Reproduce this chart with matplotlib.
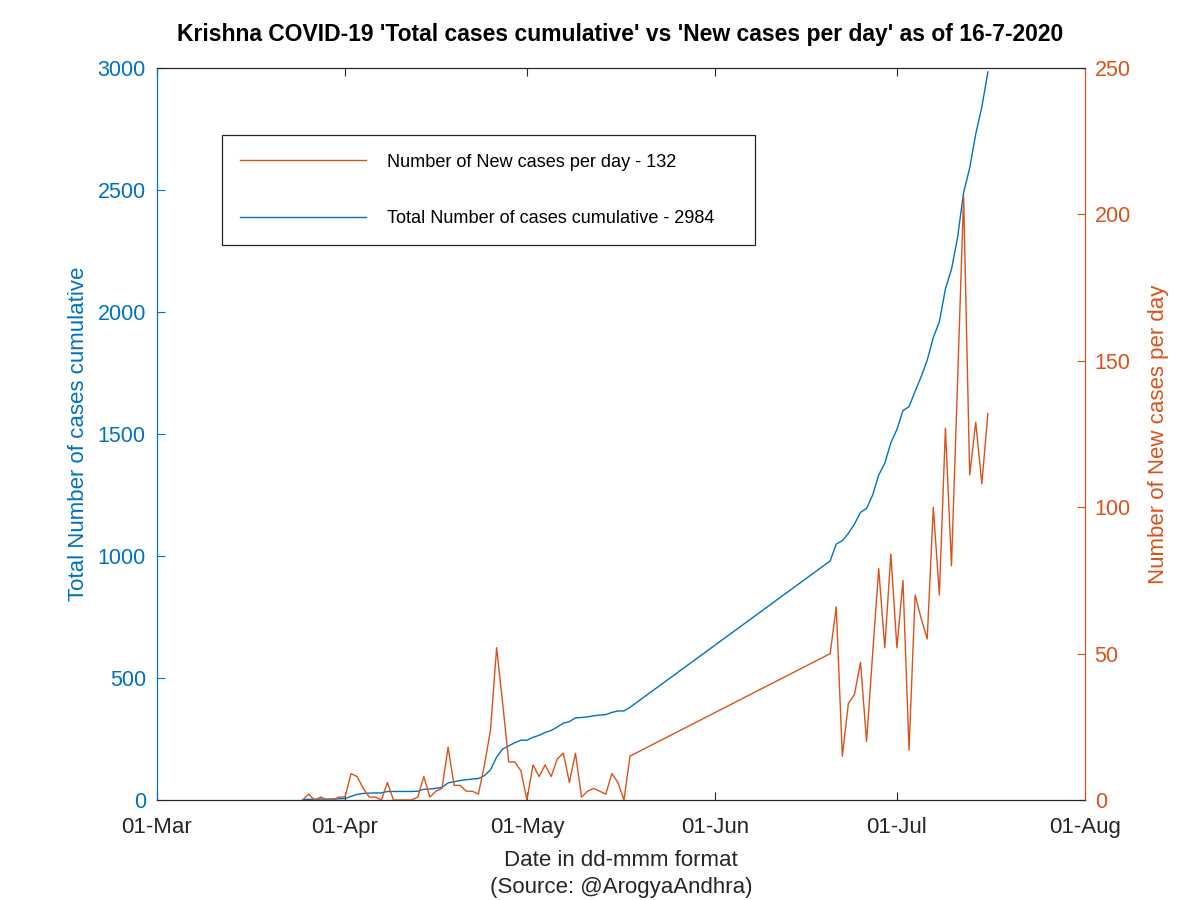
import numpy as np
import pandas as pd
import matplotlib
matplotlib.use("Agg")
import matplotlib.pyplot as plt
import matplotlib.dates as mdates

plt.rcParams['font.family'] = ['Liberation Sans', 'DejaVu Sans']

# reported days: 25-Mar .. 18-May, then 20-Jun .. 16-Jul
dates_a = pd.date_range("2020-03-25", "2020-05-18")
dates_b = pd.date_range("2020-06-20", "2020-07-16")

new_a = [0, 2, 0, 1, 0, 0, 1,
         1, 9, 8, 4, 1, 1, 0, 6, 0, 0, 0, 0, 1, 8, 1, 3, 4, 18, 5, 5, 3, 3, 2, 12,
         24, 52, 33, 13, 13, 10,
         0, 12, 8, 12, 8, 14, 16, 6, 16, 1, 3, 4, 3, 2, 9, 6, 0, 15]
new_b = [50, 66, 15, 33, 36, 47, 20, 50, 79, 52, 84,
         52, 75, 17, 70, 62, 55, 100, 70, 127, 80, 143, 206, 111, 129, 108, 132]

total_a = [1, 3, 3, 4, 4, 4, 5,
           6, 15, 23, 27, 28, 29, 29, 35, 35, 35, 35, 35, 36, 44, 45, 48, 52, 70, 75, 80,
           83, 86, 88, 100, 124, 176, 209, 222, 235, 245,
           245, 257, 265, 277, 285, 299, 315, 321, 337, 338, 341, 345, 348, 350, 359, 365, 365, 380]
total_b = [980, 1049, 1063, 1093, 1131, 1179, 1195, 1250, 1332, 1380, 1464,
           1519, 1596, 1612, 1675, 1735, 1803, 1895, 1960, 2095, 2175, 2305, 2490,
           2590, 2730, 2840, 2984]

dates = dates_a.append(dates_b)
new_cases = new_a + new_b
total_cases = total_a + total_b

blue = "#0072BD"
red = "#D95319"
dark = "#262626"

fig = plt.figure(figsize=(12, 9), dpi=100)
ax = fig.add_axes([0.1308, 0.1111, 0.7733, 0.8133])
ax2 = ax.twinx()

l1, = ax.plot(dates, total_cases, color=blue, lw=1.0,
              label="Total Number of cases cumulative - %d" % total_cases[-1])
l2, = ax2.plot(dates, new_cases, color=red, lw=1.0,
               label="Number of New cases per day - %d" % new_cases[-1])

ax.set_xlim(pd.Timestamp("2020-03-01"), pd.Timestamp("2020-08-01"))
ax.set_ylim(0, 3000)
ax2.set_ylim(0, 250)
ax.set_yticks(np.arange(0, 3001, 500))
ax2.set_yticks(np.arange(0, 251, 50))
ax.xaxis.set_major_locator(mdates.MonthLocator())
ax.xaxis.set_major_formatter(mdates.DateFormatter("%d-%b"))

ax.tick_params(axis='x', direction='in', top=True, length=6, colors=dark,
               labelsize=16, pad=12)
ax.tick_params(axis='y', direction='in', length=6, colors=blue, labelsize=15.5, pad=8)
ax2.tick_params(axis='y', direction='in', length=6, colors=red, labelsize=15.5, pad=7)

for a in (ax, ax2):
    a.spines['top'].set_color(dark)
    a.spines['bottom'].set_color(dark)
    a.spines['left'].set_color(blue)
    a.spines['right'].set_color(red)

ax.set_ylabel("Total Number of cases cumulative", color=blue, fontsize=16, labelpad=6)
ax2.set_ylabel("Number of New cases per day", color=red, fontsize=16, labelpad=12)
ax.set_xlabel("Date in dd-mmm format\n(Source: @ArogyaAndhra)", color=dark,
              fontsize=16, labelpad=9, linespacing=1.35)

fig.text(0.517, 0.962,
         "Krishna COVID-19 'Total cases cumulative' vs 'New cases per day' as of 16-7-2020",
         ha='center', va='center', fontsize=16.5, fontweight='bold', color='black')

leg = ax2.legend(handles=[l2, l1], loc='upper left',
                 bbox_to_anchor=(0.070, 0.760, 0.574, 0.148), mode='expand',
                 fontsize=13.1, frameon=True, fancybox=False, framealpha=1,
                 edgecolor=dark, handlelength=6.9, handletextpad=1.2,
                 labelspacing=2.16, borderpad=1.0, borderaxespad=0)
leg.get_frame().set_linewidth(0.9)

fig.savefig("out.png", dpi=100)
